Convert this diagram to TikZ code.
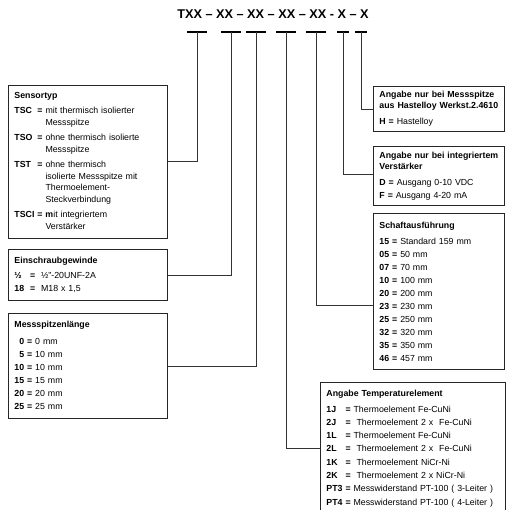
\documentclass[tikz,border=0pt]{standalone}
\usepackage{fontspec}
\setmainfont{Liberation Sans}
\usetikzlibrary{positioning}

\tikzset{
  box/.style={draw=black!85, line width=0.9pt, anchor=north west,
    inner xsep=6pt, inner ysep=5pt, align=left,
    font=\fontsize{8.8}{13}\selectfont},
  conn/.style={draw=black!80, line width=0.8pt},
  tick/.style={line width=1.7pt}
}
\newcommand{\hd}[1]{\textbf{#1}}

\begin{document}
\begin{tikzpicture}[x=1pt,y=-1pt]
    \useasboundingbox (0,0) rectangle (508,510);

    % type code
    \node[font=\bfseries\fontsize{12.7}{14}\selectfont] (code) at (273,14)
        {TXX – XX – XX – XX – XX - X – X};
    \foreach \n/\x/\w in {1/197/10,2/231/10,3/256/10,4/286/10,5/316/10,6/343/6,7/361/6}{
        \coordinate (t\n) at (\x,32);
        \draw[tick] ([xshift=-\w pt]t\n) -- ([xshift=\w pt]t\n);
    }

    % left boxes
    \node[box, text width=147pt, minimum height=152pt] (sensor) at (8,85) {%
        \fontsize{8.8}{11.5}\selectfont
        \begin{tabular}{@{}l@{\ }l@{\ }l@{}}
        \multicolumn{3}{@{}l}{\hd{Sensortyp}}\\[4pt]
        \hd{TSC} & \hd{=} & mit thermisch isolierter\\
                 &        & Messspitze\\[4pt]
        \hd{TSO} & \hd{=} & ohne thermisch isolierte\\
                 &        & Messspitze\\[4pt]
        \hd{TST} & \hd{=} & ohne thermisch\\
                 &        & isolierte Messspitze mit\\
                 &        & Thermoelement-\\
                 &        & Steckverbindung\\[4pt]
        \hd{TSCI} & \hd{=} & \hd{m}it integriertem\\
                  &        & Verstärker
        \end{tabular}};

    \node[box, text width=147pt, minimum height=49pt] (gewinde) at (8,249) {%
        \begin{tabular}{@{}l@{\ \ }l@{\ \ }l@{}}
        \multicolumn{3}{@{}l}{\hd{Einschraubgewinde}}\\[2pt]
        \hd{½}  & \hd{=} & ½"-20UNF-2A\\
        \hd{18} & \hd{=} & M18 x 1,5
        \end{tabular}};

    \node[box, text width=147pt, minimum height=102pt] (laenge) at (8,313) {%
        \begin{tabular}{@{}r@{\ }l@{\ }l@{}}
        \multicolumn{3}{@{}l}{\hd{Messspitzenlänge}}\\[4pt]
        \hd{0}  & \hd{=} & 0 mm\\
        \hd{5}  & \hd{=} & 10 mm\\
        \hd{10} & \hd{=} & 10 mm\\
        \hd{15} & \hd{=} & 15 mm\\
        \hd{20} & \hd{=} & 20 mm\\
        \hd{25} & \hd{=} & 25 mm
        \end{tabular}};

    % right boxes
    \node[box, text width=119pt, minimum height=45pt] (hastelloy) at (373,86) {%
        \fontsize{8.8}{11}\selectfont
        \hd{Angabe nur bei Messspitze}\\
        \hd{aus Hastelloy Werkst.2.4610}\\[3pt]
        \hd{H =} Hastelloy};

    \node[box, text width=119pt, minimum height=59pt] (verst) at (373,146) {%
        \fontsize{8.8}{11.5}\selectfont
        \hd{Angabe nur bei integriertem}\\
        \hd{Verstärker}\\[4pt]
        \hd{D =} Ausgang 0-10 VDC\\
        \hd{F =} Ausgang 4-20 mA};

    \node[box, text width=119pt, minimum height=156pt] (schaft) at (373,213) {%
        \hd{Schaftausführung}\\[3pt]
        \hd{15 =} Standard 159 mm\\
        \hd{05 =} 50 mm\\
        \hd{07 =} 70 mm\\
        \hd{10 =} 100 mm\\
        \hd{20 =} 200 mm\\
        \hd{23 =} 230 mm\\
        \hd{25 =} 250 mm\\
        \hd{32 =} 320 mm\\
        \hd{35 =} 350 mm\\
        \hd{46 =} 457 mm};

    \node[box, text width=173pt] (temp) at (320,382) {%
        \fontsize{8.8}{13.3}\selectfont
        \begin{tabular}{@{}l@{\ }l@{\ }l@{}}
        \multicolumn{3}{@{}l}{\hd{Angabe Temperaturelement}}\\[2pt]
        \hd{1J}  & \hd{=} & Thermoelement Fe-CuNi\\
        \hd{2J}  & \hd{=} & \ Thermoelement 2 x \ Fe-CuNi\\
        \hd{1L}  & \hd{=} & Thermoelement Fe-CuNi\\
        \hd{2L}  & \hd{=} & \ Thermoelement 2 x \ Fe-CuNi\\
        \hd{1K}  & \hd{=} & \ Thermoelement NiCr-Ni\\
        \hd{2K}  & \hd{=} & \ Thermoelement 2 x NiCr-Ni\\
        \hd{PT3} & \hd{=} & Messwiderstand PT-100 ( 3-Leiter )\\
        \hd{PT4} & \hd{=} & Messwiderstand PT-100 ( 4-Leiter )
        \end{tabular}};

    % connectors
    \draw[conn] (t1) |- (sensor.east);
    \draw[conn] (t2) |- (gewinde.east);
    \draw[conn] (t3) |- (laenge.east);
    \draw[conn] (t4) |- ([yshift=-66pt]temp.north west);
    \draw[conn] (t5) |- ([yshift=-14pt]schaft.west);
    \draw[conn] (t6) |- ([yshift=2pt]verst.west);
    \draw[conn] (t7) |- (hastelloy.west);
\end{tikzpicture}
\end{document}
